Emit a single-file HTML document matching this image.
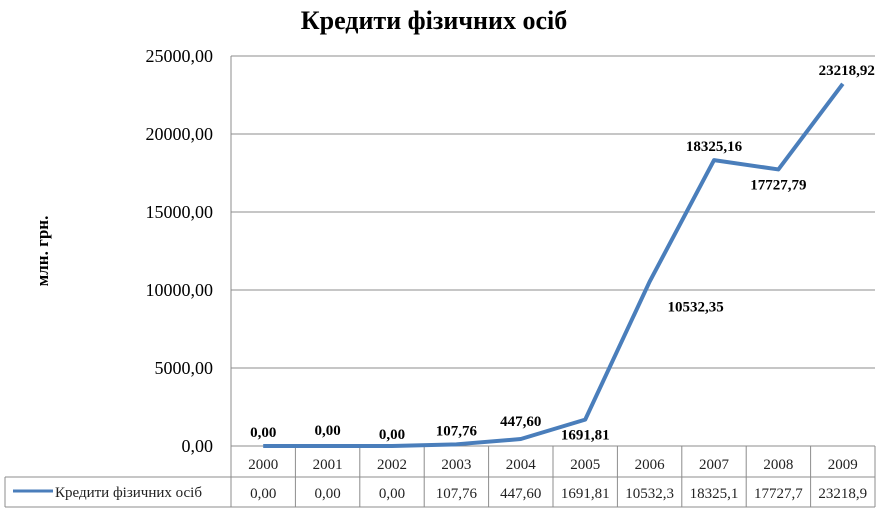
<!DOCTYPE html>
<html><head><meta charset="utf-8"><style>
body{margin:0;background:#fff;}
svg{display:block;font-family:"Liberation Serif",serif;}
</style></head><body>
<svg id="c" width="882" height="511">
<text x="434" y="29" text-anchor="middle" font-size="26" font-weight="bold">Кредити фізичних осіб</text>
<text transform="translate(48,251) rotate(-90)" text-anchor="middle" font-size="17" font-weight="bold">млн. грн.</text>
<g id="grid"></g><g id="yt"></g><g id="tbl"></g><g id="ser"></g><g id="lbl"></g>
</svg>
<script>
const categories=["2000","2001","2002","2003","2004","2005","2006","2007","2008","2009"];
const values=[0,0,0,107.76,447.60,1691.81,10532.35,18325.16,17727.79,23218.92];
const pointLabels=["0,00","0,00","0,00","107,76","447,60","1691,81","10532,35","18325,16","17727,79","23218,92"];
const tableLabels=["0,00","0,00","0,00","107,76","447,60","1691,81","10532,3","18325,1","17727,7","23218,9"];
const yTicks=[0,5000,10000,15000,20000,25000];
const yTickLabels=["0,00","5000,00","10000,00","15000,00","20000,00","25000,00"];
const NS="http://www.w3.org/2000/svg";
const L=231,R=875,T=56,B=446,yMax=25000;
const cw=(R-L)/categories.length;
const y=v=>B-(v/yMax)*(B-T);
const x=i=>L+cw*(i+0.5);
function mk(tag,attrs,parent,txt){const e=document.createElementNS(NS,tag);for(const k in attrs)e.setAttribute(k,attrs[k]);if(txt!=null)e.textContent=txt;document.getElementById(parent).appendChild(e);return e;}
yTicks.forEach((t,i)=>{
  const g=mk('line',{x1:L,x2:R,y1:y(t),y2:y(t),stroke:'#8c8c8c','stroke-width':1},'grid');
  
  
  const tx=mk('text',{x:213,y:y(t)+6,'text-anchor':'end','font-size':18},'yt',yTickLabels[i]);
  
  
});
const ax=mk('line',{x1:L,x2:L,y1:T,y2:B,stroke:'#8c8c8c'},'grid');


// table
const r1=446,r2=477,r3=507,lx=5;
[[L,R,r1],[L,R,r2],[lx,R,r2],[lx,R,r3]].forEach(a=>{const l=mk('line',{x1:a[0],x2:a[1],y1:a[2],y2:a[2],stroke:'#8c8c8c'},'tbl');

});
const vl=mk('line',{x1:lx,x2:lx,y1:r2,y2:r3,stroke:'#8c8c8c'},'tbl');


for(let i=0;i<=categories.length;i++){const l=mk('line',{x1:L+cw*i,x2:L+cw*i,y1:r1,y2:r3,stroke:'#8c8c8c'},'tbl');

}
categories.forEach((c,i)=>{
  const t=mk('text',{x:x(i),y:469,'text-anchor':'middle','font-size':15,fill:'#222'},'tbl',c);
  
  
  const v=mk('text',{x:x(i),y:498,'text-anchor':'middle','font-size':15,fill:'#222'},'tbl',tableLabels[i]);
  
  
});
const lk=mk('line',{x1:13,x2:53,y1:491,y2:491,stroke:'#4a7ebb','stroke-width':3},'tbl');


const lt=mk('text',{x:55,y:497,'font-size':15,fill:'#222'},'tbl','Кредити фізичних осіб');


// series
const pl=mk('polyline',{points:values.map((v,i)=>x(i)+','+y(v)).join(' '),fill:'none',stroke:'#4a7ebb','stroke-width':4,'stroke-linejoin':'round'},'ser');


const off=[[0,-9],[0,-11],[0,-7],[0,-9],[0,-13],[0,20],[46,30],[0,-9],[0,20],[4,-9]];
values.forEach((v,i)=>{
  const t=mk('text',{x:x(i)+off[i][0],y:y(v)+off[i][1],'text-anchor':'middle','font-size':15,'font-weight':'bold'},'lbl',pointLabels[i]);
  
  
});
</script>
</body></html>
